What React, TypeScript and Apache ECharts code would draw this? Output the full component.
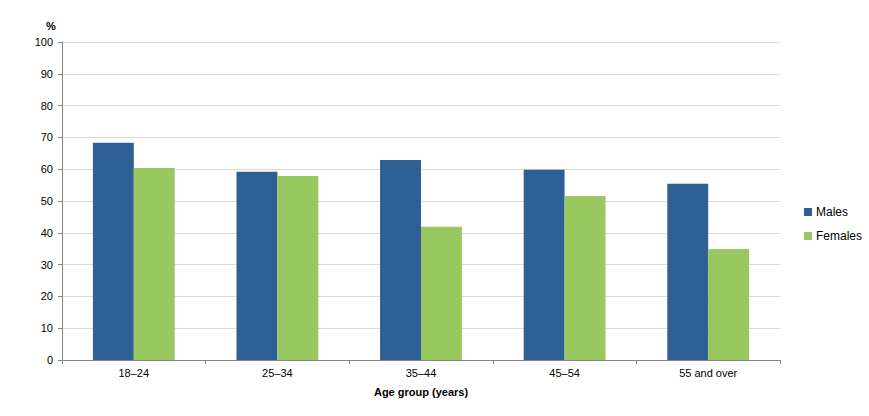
import React, { useEffect, useRef } from "react";
import * as echarts from "echarts";

const categories = ["18–24", "25–34", "35–44", "45–54", "55 and over"];
const males = [68.3, 59.2, 62.9, 59.8, 55.4];
const females = [60.4, 57.9, 41.9, 51.6, 34.9];
const seriesNames = ["Males", "Females"];

const FONT = "'Liberation Sans', Arial, sans-serif";

export default function App() {
  const ref = useRef<HTMLDivElement>(null);
  useEffect(() => {
    if (!ref.current) return;
    const chart = echarts.init(ref.current, null, { renderer: "svg" });
    chart.setOption({
      animation: false,
      backgroundColor: "#ffffff",
      textStyle: { fontFamily: FONT },
      grid: { left: 62, right: 89, top: 42, bottom: 56, containLabel: false },
      legend: {
        orient: "vertical",
        left: 799,
        top: 201,
        itemWidth: 8,
        itemHeight: 8,
        itemGap: 12,
        icon: "rect",
        textStyle: { fontSize: 12, color: "#000", fontFamily: FONT, padding: [0, 0, 0, -1] },
        data: seriesNames,
      },
      graphic: [
        {
          type: "text",
          left: 46,
          top: 20,
          style: { text: "%", fontSize: 11, fontWeight: "bold", fill: "#000", fontFamily: FONT },
        },
      ],
      xAxis: {
        type: "category",
        data: categories,
        name: "Age group (years)",
        nameLocation: "middle",
        nameGap: 26,
        nameTextStyle: { fontSize: 11, fontWeight: "bold", color: "#000", fontFamily: FONT },
        axisLine: { lineStyle: { color: "#868686", width: 1 } },
        axisTick: { show: true, alignWithLabel: false, length: 4, lineStyle: { color: "#868686" } },
        axisLabel: { fontSize: 11, color: "#000", margin: 7, fontFamily: FONT },
      },
      yAxis: {
        type: "value",
        min: 0,
        max: 100,
        interval: 10,
        axisLine: { show: true, lineStyle: { color: "#868686", width: 1 } },
        axisTick: { show: true, length: 4, lineStyle: { color: "#868686" } },
        axisLabel: { fontSize: 11, color: "#000", margin: 9, fontFamily: FONT },
        splitLine: { show: true, lineStyle: { color: "#d9d9d9", width: 1 } },
      },
      series: [
        {
          name: seriesNames[0],
          type: "bar",
          data: males,
          itemStyle: { color: "#2e6096" },
          barGap: "0%",
          barCategoryGap: "43%",
        },
        {
          name: seriesNames[1],
          type: "bar",
          data: females,
          itemStyle: { color: "#99c861" },
          barGap: "0%",
          barCategoryGap: "43%",
        },
      ],
    });
    return () => chart.dispose();
  }, []);
  return (
    <div
      ref={ref}
      style={{ position: "fixed", left: 0, top: 0, width: 869, height: 416, background: "#fff" }}
    />
  );
}
